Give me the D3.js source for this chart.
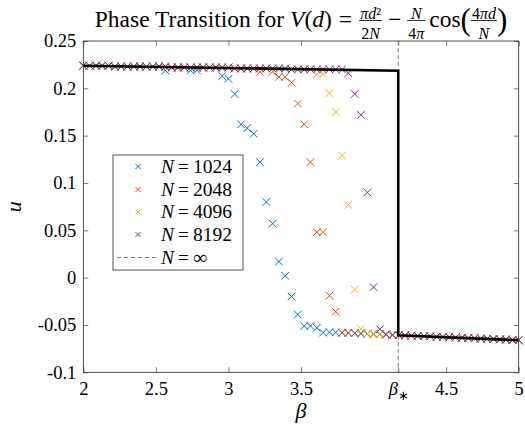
<!DOCTYPE html>
<html>
<head>
<meta charset="utf-8">
<script src="https://cdn.jsdelivr.net/npm/d3@7"></script>
<style>
  html, body { margin: 0; padding: 0; background: #fff; }
  svg text { font-family: "Liberation Serif", "Times New Roman", serif; fill: #000; }
</style>
</head>
<body>
<div id="main"></div>
<script>
"use strict";

// beta grid of the simulations
const BETA = [
  2.000, 2.043, 2.087, 2.130, 2.174, 2.217, 2.261, 2.304, 2.348, 2.391,
  2.435, 2.478, 2.522, 2.565, 2.609, 2.652, 2.696, 2.739, 2.783, 2.826,
  2.870, 2.913, 2.957, 3.000, 3.043, 3.087, 3.130, 3.174, 3.217, 3.261,
  3.304, 3.348, 3.391, 3.435, 3.478, 3.522, 3.565, 3.609, 3.652, 3.696,
  3.739, 3.783, 3.826, 3.870, 3.913, 3.957, 4.000, 4.043, 4.087, 4.130,
  4.174, 4.217, 4.261, 4.304, 4.348, 4.391, 4.435, 4.478, 4.522, 4.565,
  4.609, 4.652, 4.696, 4.739, 4.783, 4.826, 4.870, 4.913, 4.957, 5.000
];

const U_1024 = [
  0.224, 0.224, 0.224, 0.224, 0.224, 0.223, 0.223, 0.223, 0.223, 0.223,
  0.223, 0.223, 0.223, 0.219, 0.222, 0.222, 0.222, 0.219, 0.219, 0.222,
  0.222, 0.222, 0.213, 0.210, 0.194, 0.162, 0.158, 0.152, 0.122, 0.080,
  0.057, 0.017, 0.002, -0.020, -0.039, -0.051, -0.051, -0.053, -0.058, -0.0576,
  -0.0579, -0.0581, -0.0584, -0.0587, -0.0590, -0.0593, -0.0596, -0.0598, -0.0601, -0.0604,
  -0.0607, -0.0610, -0.0612, -0.0615, -0.0618, -0.0621, -0.0624, -0.0627, -0.0629, -0.0632,
  -0.0635, -0.0638, -0.0641, -0.0644, -0.0646, -0.0649, -0.0652, -0.0655, -0.0658, -0.0661
];

const U_2048 = [
  0.224, 0.224, 0.224, 0.224, 0.224, 0.223, 0.223, 0.223, 0.223, 0.223,
  0.223, 0.223, 0.223, 0.223, 0.222, 0.222, 0.222, 0.222, 0.222, 0.222,
  0.222, 0.222, 0.222, 0.222, 0.221, 0.221, 0.221, 0.221, 0.2175, 0.221,
  0.2175, 0.212, 0.212, 0.206, 0.184, 0.162, 0.122, 0.048, 0.048, -0.019,
  -0.036, -0.0581, -0.0584, -0.0587, -0.0590, -0.0593, -0.0596, -0.0598, -0.0601, -0.0604,
  -0.0607, -0.0610, -0.0612, -0.0615, -0.0618, -0.0621, -0.0624, -0.0627, -0.0629, -0.0632,
  -0.0635, -0.0638, -0.0641, -0.0644, -0.0646, -0.0649, -0.0652, -0.0655, -0.0658, -0.0661
];

const U_4096 = [
  0.224, 0.224, 0.224, 0.224, 0.224, 0.223, 0.223, 0.223, 0.223, 0.223,
  0.223, 0.223, 0.223, 0.223, 0.222, 0.222, 0.222, 0.222, 0.222, 0.222,
  0.222, 0.222, 0.222, 0.222, 0.221, 0.221, 0.221, 0.221, 0.221, 0.221,
  0.221, 0.221, 0.221, 0.220, 0.220, 0.220, 0.220, 0.215, 0.215, 0.195,
  0.175, 0.129, 0.077, -0.0125, -0.054, -0.0593, -0.0596, -0.0598, -0.0601, -0.0604,
  -0.0607, -0.0610, -0.0612, -0.0615, -0.0618, -0.0621, -0.0624, -0.0627, -0.0629, -0.0632,
  -0.0635, -0.0638, -0.0641, -0.0644, -0.0646, -0.0649, -0.0652, -0.0655, -0.0658, -0.0661
];

const U_8192 = [
  0.224, 0.224, 0.224, 0.224, 0.224, 0.223, 0.223, 0.223, 0.223, 0.223,
  0.223, 0.223, 0.223, 0.223, 0.222, 0.222, 0.222, 0.222, 0.222, 0.222,
  0.222, 0.222, 0.222, 0.222, 0.221, 0.221, 0.221, 0.221, 0.221, 0.221,
  0.221, 0.221, 0.221, 0.220, 0.220, 0.220, 0.220, 0.220, 0.220, 0.220,
  0.220, 0.220, 0.216, 0.194, 0.172, 0.090, -0.010, -0.0545, -0.0601, -0.0604,
  -0.0607, -0.0610, -0.0612, -0.0615, -0.0618, -0.0621, -0.0624, -0.0627, -0.0629, -0.0632,
  -0.0635, -0.0638, -0.0641, -0.0644, -0.0646, -0.0649, -0.0652, -0.0655, -0.0658, -0.0661
];

// N = infinity limit curve
const INF_BETA = [2, 4.17, 4.17, 5];
const INF_U = [0.2239, 0.2186, -0.0608, -0.0661];
const BETA_STAR = 4.17;

const SERIES_N = ["1024", "2048", "4096", "8192"];
const SERIES_COLORS = ["#0072BD", "#D95319", "#EDB120", "#7E2F8E"];

const X_TICKS = [2, 2.5, 3, 3.5, BETA_STAR, 4.5, 5];
const X_TICK_LABELS = ["2", "2.5", "3", "3.5", "β*", "4.5", "5"];
const Y_TICKS = [0.25, 0.2, 0.15, 0.1, 0.05, 0, -0.05, -0.1];
const Y_TICK_LABELS = ["0.25", "0.2", "0.15", "0.1", "0.05", "0", "-0.05", "-0.1"];

const W = 525, H = 428;
const box = { left: 83.3, right: 518.7, top: 41, bottom: 372.3 };
const AX = "#262626";

function main() {
    const svg = d3.select("#main").append("svg")
        .attr("width", W).attr("height", H);

    const x = d3.scaleLinear().domain([2, 5]).range([box.left, box.right]);
    const y = d3.scaleLinear().domain([-0.1, 0.25]).range([box.bottom, box.top]);

    // ticks (inward, on all four sides like matlab's box on)
    const xb = svg.append("g").attr("transform", `translate(0,${box.bottom})`)
        .call(d3.axisBottom(x).tickValues(X_TICKS).tickSize(-5).tickSizeOuter(0).tickPadding(10)
            .tickFormat((d, i) => X_TICK_LABELS[i]));
    svg.append("g").attr("transform", `translate(0,${box.top})`)
        .call(d3.axisTop(x).tickValues(X_TICKS).tickSize(-5).tickSizeOuter(0).tickFormat(""));
    svg.append("g").attr("transform", `translate(${box.left},0)`)
        .call(d3.axisLeft(y).tickValues(Y_TICKS).tickSize(-5).tickSizeOuter(0).tickPadding(7)
            .tickFormat((d, i) => Y_TICK_LABELS[i]));
    svg.append("g").attr("transform", `translate(${box.right},0)`)
        .call(d3.axisRight(y).tickValues(Y_TICKS).tickSize(-5).tickSizeOuter(0).tickFormat(""));

    svg.selectAll(".domain").remove();
    svg.selectAll(".tick line").attr("stroke", AX).attr("stroke-width", 0.6);
    svg.selectAll(".tick text").style("font-size", "18.5px").attr("fill", "#000");

    // beta_* label: italic beta with a star subscript
    xb.selectAll(".tick text").filter((d, i) => X_TICK_LABELS[i] === "β*")
        .text(null)
        .call(t => {
            t.append("tspan").style("font-style", "italic").text("β");
            t.append("tspan").attr("dy", 5).style("font-size", "13px").text("∗");
        });

    // scatter markers
    const cross = "M-3.8,-3.8L3.8,3.8M-3.8,3.8L3.8,-3.8";
    const allU = [U_1024, U_2048, U_4096, U_8192];
    allU.forEach((us, s) => {
        svg.append("g").selectAll("path")
            .data(BETA.map((b, i) => [b, us[i]]))
            .join("path")
            .attr("d", cross)
            .attr("transform", d => `translate(${x(d[0])},${y(d[1])})`)
            .attr("fill", "none")
            .attr("stroke", SERIES_COLORS[s])
            .attr("stroke-width", 1);
    });

    // dashed marker of beta_*
    svg.append("line")
        .attr("x1", x(BETA_STAR)).attr("x2", x(BETA_STAR))
        .attr("y1", y(0.25)).attr("y2", y(-0.1))
        .attr("stroke", "#808080").attr("stroke-width", 1)
        .attr("stroke-dasharray", "4,3");

    // N = inf curve
    const line = d3.line().x(d => x(d[0])).y(d => y(d[1]));
    svg.append("path")
        .datum(INF_BETA.map((b, i) => [b, INF_U[i]]))
        .attr("d", line)
        .attr("fill", "none")
        .attr("stroke", "#000")
        .attr("stroke-width", 2.6);

    // axes box
    svg.append("rect")
        .attr("x", box.left).attr("y", box.top)
        .attr("width", box.right - box.left).attr("height", box.bottom - box.top)
        .attr("fill", "none").attr("stroke", AX).attr("stroke-width", 0.8);

    // axis labels
    svg.append("text")
        .attr("x", (box.left + box.right) / 2).attr("y", 418)
        .attr("text-anchor", "middle")
        .style("font-size", "22px").style("font-style", "italic")
        .text("β");
    svg.append("text")
        .attr("transform", `translate(21,${(box.top + box.bottom) / 2}) rotate(-90)`)
        .attr("text-anchor", "middle")
        .style("font-size", "22px").style("font-style", "italic")
        .text("u");

    drawLegend(svg);
    drawTitle(svg);
}

function drawLegend(svg) {
    const lg = svg.append("g").attr("transform", "translate(113,155)");
    lg.append("rect")
        .attr("width", 130).attr("height", 115)
        .attr("fill", "#fff").attr("stroke", AX).attr("stroke-width", 0.8);

    const rowY = [11.5, 34.5, 57, 79.5, 102.5];
    SERIES_N.forEach((n, i) => {
        lg.append("path")
            .attr("d", "M-2.5,-2.5L2.5,2.5M-2.5,2.5L2.5,-2.5")
            .attr("transform", `translate(25,${rowY[i]})`)
            .attr("fill", "none").attr("stroke", SERIES_COLORS[i]).attr("stroke-width", 1);
        const t = lg.append("text").attr("x", 48).attr("y", rowY[i] + 6).style("font-size", "19.5px");
        t.append("tspan").style("font-style", "italic").text("N");
        t.append("tspan").attr("dx", 4).text("=");
        t.append("tspan").attr("dx", 4).text(n);
    });

    lg.append("line")
        .attr("x1", 4).attr("x2", 46)
        .attr("y1", rowY[4]).attr("y2", rowY[4])
        .attr("stroke", "#808080").attr("stroke-width", 1)
        .attr("stroke-dasharray", "4,3");
    const t = lg.append("text").attr("x", 48).attr("y", rowY[4] + 6).style("font-size", "19.5px");
    t.append("tspan").style("font-style", "italic").text("N");
    t.append("tspan").attr("dx", 4).text("=");
    t.append("tspan").attr("dx", 4).text("∞");
}

// title: Phase Transition for V(d) = pi d^2/2N - N/4pi cos(4 pi d/N)
function drawTitle(svg) {
    const g = svg.append("g");
    const big = 23.5, small = 16;
    let cx = 0;

    function run(parts, size, dy) {
        const t = g.append("text").attr("x", cx).attr("y", dy || 0).style("font-size", size + "px");
        parts.forEach(p => {
            t.append("tspan").style("font-style", p[1] ? "italic" : "normal").text(p[0]);
        });
        return t;
    }
    function add(parts, size, dy) {
        const t = run(parts, size, dy);
        cx += t.node().getComputedTextLength();
    }
    function frac(num, den) {
        const a = run(num, small, -8.5);
        const b = run(den, small, 12);
        const wa = a.node().getComputedTextLength();
        const wb = b.node().getComputedTextLength();
        const w = Math.max(wa, wb) + 2;
        a.attr("x", cx + (w - wa) / 2);
        b.attr("x", cx + (w - wb) / 2);
        g.append("line")
            .attr("x1", cx).attr("x2", cx + w)
            .attr("y1", -6.5).attr("y2", -6.5)
            .attr("stroke", "#000").attr("stroke-width", 0.8);
        cx += w;
    }

    add([["Phase Transition for", false]], big);
    cx += 6;
    add([["V", true], ["(", false], ["d", true], [")", false]], big);
    cx += 7;
    add([["=", false]], big);
    cx += 7;
    frac([["π", true], ["d", true], ["²", false]], [["2", false], ["N", true]]);
    cx += 6;
    add([["−", false]], big);
    cx += 6;
    frac([["N", true]], [["4", false], ["π", true]]);
    cx += 4;
    add([["cos", false]], big);
    add([["(", false]], 31, 3);
    frac([["4", false], ["π", true], ["d", true]], [["N", true]]);
    add([[")", false]], 31, 3);

    g.attr("transform", `translate(${(box.left + box.right) / 2 - cx / 2},27)`);
}

main();
</script>
</body>
</html>
